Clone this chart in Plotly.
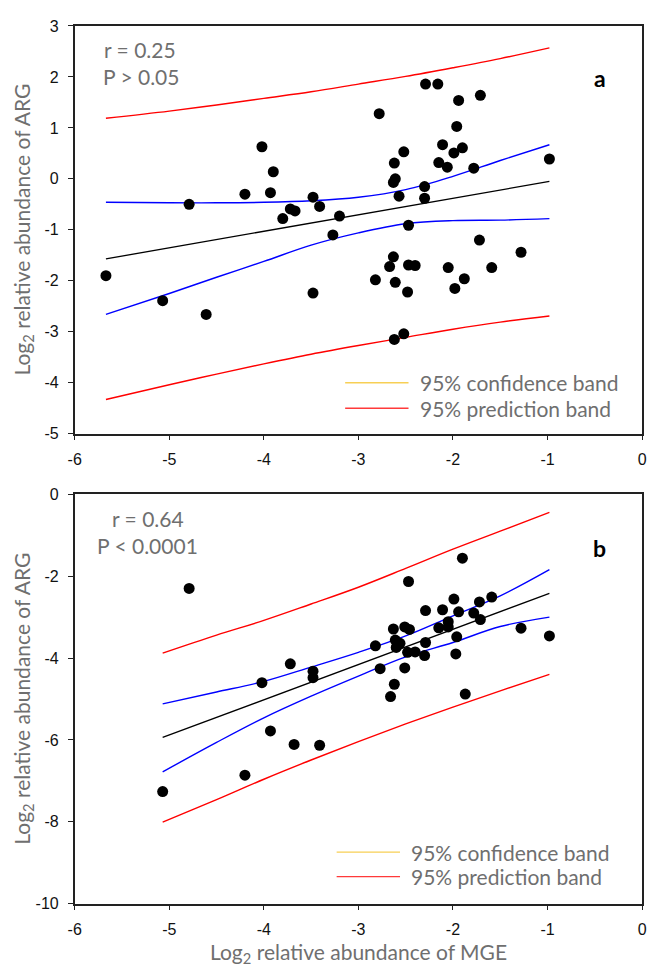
import plotly.graph_objects as go

# ---------------- Panel a data ----------------
mge_a = [-5.67, -5.07, -4.79, -4.61, -4.20, -4.02, -3.90, -3.93, -3.80, -3.72,
         -3.67, -3.48, -3.41, -3.48, -3.27, -3.20, -2.82, -2.78, -2.67, -2.63,
         -2.61, -2.62, -2.62, -2.61, -2.63, -2.57, -2.52, -2.52, -2.47, -2.47,
         -2.40, -2.48, -2.30, -2.30, -2.29, -2.16, -2.11, -2.15, -2.06, -2.05,
         -1.99, -1.96, -1.94, -1.90, -1.98, -1.88, -1.78, -1.71, -1.72, -1.59,
         -1.28, -0.98]
arg_a = [-1.90, -2.39, -0.50, -2.66, -0.30, 0.63, 0.14, -0.27, -0.78, -0.59,
         -0.63, -0.36, -0.54, -2.24, -1.10, -0.73, -1.98, 1.28, -1.72, -1.53,
         -2.03, -3.15, 0.31, 0.00, -0.07, -0.34, 0.53, -3.04, -0.91, -1.69,
         -1.70, -2.22, -0.15, -0.38, 1.86, 1.86, 0.67, 0.32, 0.23, -1.74,
         0.51, 1.03, 1.54, 0.61, -2.15, -1.96, 0.21, 1.64, -1.20, -1.74,
         -1.44, 0.39]

fit_x_a = [-5.67, -0.98]
fit_y_a = [-1.57, -0.05]
band_x_a = [-5.67, -5.0, -4.5, -4.0, -3.5, -3.0, -2.5, -2.0, -1.5, -0.98]
ci_up_a = [-0.46, -0.47, -0.47, -0.46, -0.43, -0.36, -0.21, 0.05, 0.36, 0.67]
ci_lo_a = [-2.66, -2.25, -1.93, -1.62, -1.30, -1.06, -0.88, -0.82, -0.81, -0.78]
pi_up_a = [1.19, 1.33, 1.45, 1.58, 1.71, 1.86, 2.01, 2.18, 2.36, 2.57]
pi_lo_a = [-4.33, -4.04, -3.83, -3.63, -3.44, -3.27, -3.11, -2.95, -2.81, -2.69]

# ---------------- Panel b data ----------------
mge_b = [-5.07, -4.79, -4.20, -4.02, -3.93, -3.72, -3.68, -3.48, -3.48, -3.41,
         -2.82, -2.77, -2.66, -2.62, -2.63, -2.61, -2.56, -2.60, -2.51, -2.46,
         -2.51, -2.47, -2.48, -2.40, -2.30, -2.29, -2.29, -2.15, -2.11, -2.05,
         -2.05, -1.99, -1.94, -1.96, -1.97, -1.90, -1.87, -1.78, -1.72, -1.71,
         -1.59, -1.28, -0.98]
arg_b = [-7.26, -2.30, -6.86, -4.60, -5.78, -4.14, -6.11, -4.32, -4.48, -6.13,
         -3.70, -4.26, -4.94, -4.64, -3.29, -3.56, -3.64, -3.74, -3.24, -3.30,
         -4.24, -2.13, -3.86, -3.85, -3.94, -3.62, -2.84, -3.26, -2.82, -3.11,
         -3.24, -2.56, -2.87, -3.48, -3.90, -1.56, -4.88, -2.90, -2.63, -3.06,
         -2.51, -3.27, -3.46]

fit_x_b = [-5.07, -0.98]
fit_y_b = [-5.94, -2.42]
band_x_b = [-5.07, -4.5, -4.0, -3.5, -3.0, -2.5, -2.0, -1.5, -0.98]
ci_up_b = [-5.12, -4.83, -4.57, -4.22, -3.86, -3.46, -2.97, -2.48, -1.84]
ci_lo_b = [-6.78, -6.06, -5.46, -4.93, -4.44, -3.97, -3.62, -3.23, -3.00]
pi_up_b = [-3.88, -3.44, -3.08, -2.68, -2.27, -1.81, -1.34, -0.90, -0.44]
pi_lo_b = [-8.01, -7.46, -6.96, -6.49, -6.04, -5.61, -5.20, -4.80, -4.40]

x_ticks = [-6, -5, -4, -3, -2, -1, 0]
x_tick_text = ["-6", "-5", "-4", "-3", "-2", "-1", "0"]
y_ticks_a = [3, 2, 1, 0, -1, -2, -3, -4, -5]
y_tick_text_a = ["3", "2", "1", "0", "-1", "-2", "-3", "-4", "-5"]
y_ticks_b = [0, -2, -4, -6, -8, -10]
y_tick_text_b = ["0", "-2", "-4", "-6", "-8", "-10"]

stats_a = ["r = 0.25", "P > 0.05"]
stats_b = ["r = 0.64", "P < 0.0001"]
legend_labels = ["95% confidence band", "95% prediction band"]

W, H = 651, 968
GREY = "#6f6f6f"
TXT_FONT = "Lato, 'Open Sans', sans-serif"
TICK_FONT = "'Liberation Sans', Arial, sans-serif"

fig = go.Figure()

def add_panel(xa, ya, mx, my, fx, fy, bx, cu, cl, pu, pl):
    fig.add_trace(go.Scatter(x=fx, y=fy, mode="lines", line=dict(color="black", width=1.3),
                             xaxis=xa, yaxis=ya, showlegend=False, hoverinfo="skip"))
    for arr in (cu, cl):
        fig.add_trace(go.Scatter(x=bx, y=arr, mode="lines", line=dict(color="#0000ff", width=1.4, shape="spline"),
                                 xaxis=xa, yaxis=ya, showlegend=False, hoverinfo="skip"))
    for arr in (pu, pl):
        fig.add_trace(go.Scatter(x=bx, y=arr, mode="lines", line=dict(color="#ff0000", width=1.4, shape="spline"),
                                 xaxis=xa, yaxis=ya, showlegend=False, hoverinfo="skip"))
    fig.add_trace(go.Scatter(x=mx, y=my, mode="markers",
                             marker=dict(color="black", size=11, line=dict(width=0)),
                             xaxis=xa, yaxis=ya, showlegend=False))

add_panel("x", "y", mge_a, arg_a, fit_x_a, fit_y_a, band_x_a, ci_up_a, ci_lo_a, pi_up_a, pi_lo_a)
add_panel("x2", "y2", mge_b, arg_b, fit_x_b, fit_y_b, band_x_b, ci_up_b, ci_lo_b, pi_up_b, pi_lo_b)

xdom = [69 / W, 647 / W]
ydom_a = [1 - 433.3 / H, 1 - 18.3 / H]
ydom_b = [1 - 911.7 / H, 1 - 495 / H]

axis_common = dict(showline=True, linecolor="#222222", linewidth=1.6, mirror=True,
                   ticks="outside", ticklen=5, tickcolor="#222222", tickwidth=1.3,
                   showgrid=False, zeroline=False, ticklabeloverflow="allow",
                   tickfont=dict(family=TICK_FONT, size=16, color="#111111"))

fig.update_layout(
    width=W, height=H, autosize=False,
    margin=dict(l=0, r=0, t=0, b=0),
    paper_bgcolor="white", plot_bgcolor="white",
    showlegend=False,
    xaxis=dict(domain=xdom, anchor="y", range=[-6, 0], tickvals=x_ticks, ticktext=x_tick_text,
               ticklabelstandoff=5, **axis_common),
    yaxis=dict(domain=ydom_a, anchor="x", range=[-5, 3], tickvals=y_ticks_a, ticktext=y_tick_text_a,
               ticklabelstandoff=6, **axis_common),
    xaxis2=dict(domain=xdom, anchor="y2", range=[-6, 0], tickvals=x_ticks, ticktext=x_tick_text,
                ticklabelstandoff=5, **axis_common),
    yaxis2=dict(domain=ydom_b, anchor="x2", range=[-10, 0], tickvals=y_ticks_b, ticktext=y_tick_text_b,
                ticklabelstandoff=6, **axis_common),
)

ann = []
shapes = []

def txt(x, y, s, xref, yref, size=21, color=GREY, bold=False, xanchor="center", textangle=0):
    ann.append(dict(x=x, y=y, xref=xref, yref=yref, text=("<b>%s</b>" % s) if bold else s,
                    showarrow=False, xanchor=xanchor, yanchor="middle", textangle=textangle,
                    font=dict(family=TXT_FONT, size=size, color=color)))

# panel a annotations
txt(-5.31, 2.53, stats_a[0], "x", "y")
txt(-5.30, 2.00, stats_a[1], "x", "y")
txt(-0.45, 1.97, "a", "x", "y", size=23, color="black", bold=True)
# panel b annotations
txt(-5.22, -0.60, stats_b[0], "x2", "y2")
txt(-5.23, -1.24, stats_b[1], "x2", "y2")
txt(-0.45, -1.30, "b", "x2", "y2", size=23, color="black", bold=True)

# legends
def legend(xref, yref, x0, x1, ys, xt):
    cols = ["#f7cf55", "#ff3a3a"]
    for y, c, lab in zip(ys, cols, legend_labels):
        shapes.append(dict(type="line", xref=xref, yref=yref, x0=x0, x1=x1, y0=y, y1=y,
                           line=dict(color=c, width=1.4)))
        txt(xt, y, lab, xref, yref, xanchor="left")

legend("x", "y", -3.14, -2.47, [-4.0, -4.5], -2.37)
legend("x2", "y2", -3.23, -2.56, [-8.74, -9.34], -2.47)

# axis titles
txt(16 / W, 0.5, "Log<sub>2</sub> relative abundance of ARG", "paper", "y domain", textangle=-90)
txt(16 / W, 0.5, "Log<sub>2</sub> relative abundance of ARG", "paper", "y2 domain", textangle=-90)
txt(0.5, 1 - 962 / H, "Log<sub>2</sub> relative abundance of MGE", "x2 domain", "paper")

fig.update_layout(annotations=ann, shapes=shapes)
fig.write_html("out.html", config={"displayModeBar": False},
               post_script="document.body.style.margin='0px';document.body.style.overflow='hidden';")
